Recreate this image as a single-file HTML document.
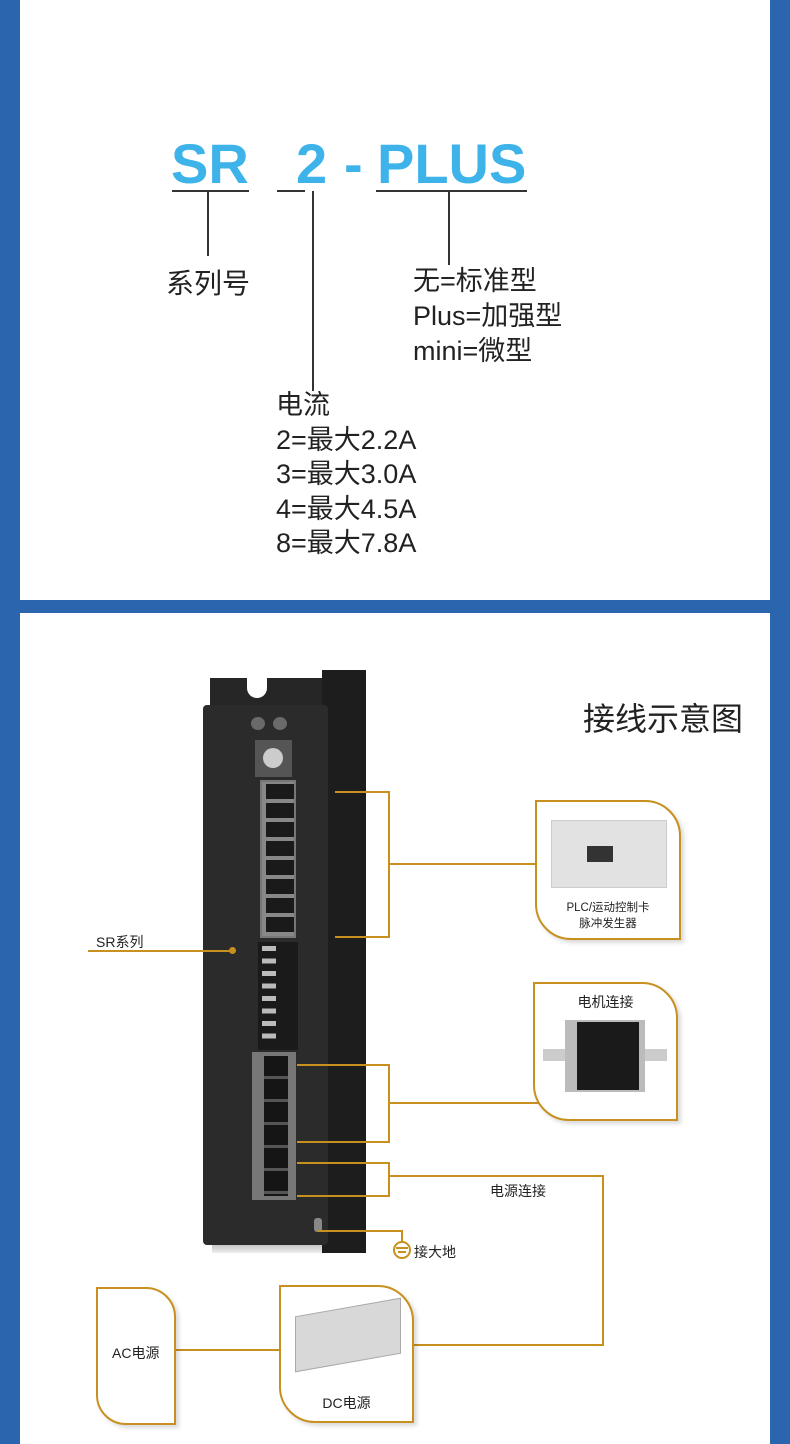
<!DOCTYPE html>
<html><head><meta charset="utf-8"><style>
*{margin:0;padding:0;box-sizing:border-box}
body{width:790px;height:1444px;background:#2a65ad;position:relative;overflow:hidden;font-family:"Liberation Sans","Noto Sans CJK SC",sans-serif;color:#222}
.p{position:absolute;background:#fff}
.a{position:absolute}
.t{position:absolute;white-space:nowrap}
.o{position:absolute;background:#c8901e}
.k{position:absolute;background:#333}
.h{position:absolute;white-space:nowrap;font-size:56px;font-weight:bold;color:#3db3ea;top:131px}
.box{position:absolute;border:2px solid #c8901e;border-radius:0 36px 0 36px;background:#fff;box-shadow:3px 3px 4px rgba(0,0,0,.15)}
</style></head><body>
<div class="p" style="left:20px;top:0;width:750px;height:600px"></div>
<div class="p" style="left:20px;top:613px;width:750px;height:831px"></div>

<!-- top section -->
<div class="h" style="left:171px">SR</div>
<div class="h" style="left:296px">2</div>
<div class="h" style="left:344px">-</div>
<div class="h" style="left:377px">PLUS</div>
<div class="k" style="left:172px;top:190px;width:77px;height:2px"></div>
<div class="k" style="left:277px;top:190px;width:28px;height:2px"></div>
<div class="k" style="left:376px;top:190px;width:151px;height:2px"></div>
<div class="k" style="left:207px;top:191px;width:2px;height:65px"></div>
<div class="k" style="left:312px;top:191px;width:2px;height:200px"></div>
<div class="k" style="left:448px;top:191px;width:2px;height:74px"></div>
<div class="t" style="left:166px;top:262px;font-size:28px">系列号</div>
<div class="t" style="left:413px;top:264px;font-size:27px;line-height:35px">无=标准型<br>Plus=加强型<br>mini=微型</div>
<div class="t" style="left:276px;top:388px;font-size:27px;line-height:34.5px">电流<br>2=最大2.2A<br>3=最大3.0A<br>4=最大4.5A<br>8=最大7.8A</div>

<!-- bottom title -->
<div class="t" style="left:583px;top:694px;font-size:32px">接线示意图</div>

<!-- driver -->
<div class="a" style="left:322px;top:670px;width:44px;height:583px;background:#1d1d1d"></div>
<div class="a" style="left:210px;top:678px;width:112px;height:30px;background:#262626"></div>
<div class="a" style="left:247px;top:678px;width:20px;height:20px;background:#fff;border-radius:0 0 10px 10px"></div>
<div class="a" style="left:212px;top:1243px;width:110px;height:10px;background:linear-gradient(#bbb,#eee)"></div>
<div class="a" style="left:203px;top:705px;width:125px;height:540px;background:#2b2b2b;border-radius:4px"></div>
<div class="a" style="left:251px;top:717px;width:14px;height:13px;border-radius:50%;background:#6a6a6a"></div>
<div class="a" style="left:273px;top:717px;width:14px;height:13px;border-radius:50%;background:#6a6a6a"></div>
<div class="a" style="left:255px;top:740px;width:37px;height:37px;background:#555"></div>
<div class="a" style="left:263px;top:748px;width:20px;height:20px;border-radius:50%;background:#ccc"></div>
<div class="a" style="left:260px;top:780px;width:36px;height:158px;background:#888;border:2px solid #777"></div>
<div class="a" style="left:266px;top:784px;width:28px;height:150px;background:repeating-linear-gradient(#1a1a1a 0 15px,#888 15px 19px)"></div>
<div class="a" style="left:258px;top:942px;width:40px;height:108px;background:#1a1a1a"></div>
<div class="a" style="left:262px;top:946px;width:14px;height:100px;background:repeating-linear-gradient(#bbb 0 5px,#1a1a1a 5px 12.5px)"></div>
<div class="a" style="left:252px;top:1052px;width:44px;height:148px;background:#777"></div>
<div class="a" style="left:264px;top:1056px;width:24px;height:140px;background:repeating-linear-gradient(#151515 0 20px,#555 20px 23px)"></div>
<div class="a" style="left:314px;top:1218px;width:8px;height:14px;background:#888;border-radius:3px"></div>

<!-- SR series -->
<div class="t" style="left:96px;top:932px;font-size:14px">SR系列</div>
<div class="o" style="left:88px;top:950px;width:144px;height:2px"></div>
<div class="a" style="left:229px;top:947px;width:7px;height:7px;border-radius:50%;background:#c8901e"></div>

<!-- PLC bracket -->
<div class="o" style="left:335px;top:791px;width:55px;height:2px"></div>
<div class="o" style="left:388px;top:791px;width:2px;height:147px"></div>
<div class="o" style="left:335px;top:936px;width:55px;height:2px"></div>
<div class="o" style="left:388px;top:863px;width:148px;height:2px"></div>

<!-- motor bracket -->
<div class="o" style="left:297px;top:1064px;width:93px;height:2px"></div>
<div class="o" style="left:388px;top:1064px;width:2px;height:79px"></div>
<div class="o" style="left:297px;top:1141px;width:93px;height:2px"></div>
<div class="o" style="left:388px;top:1102px;width:250px;height:2px"></div>

<!-- power bracket -->
<div class="o" style="left:297px;top:1162px;width:93px;height:2px"></div>
<div class="o" style="left:388px;top:1162px;width:2px;height:35px"></div>
<div class="o" style="left:297px;top:1195px;width:93px;height:2px"></div>
<div class="o" style="left:388px;top:1175px;width:216px;height:2px"></div>
<div class="o" style="left:602px;top:1175px;width:2px;height:171px"></div>
<div class="o" style="left:413px;top:1344px;width:191px;height:2px"></div>
<div class="t" style="left:490px;top:1181px;font-size:14px">电源连接</div>

<!-- ground -->
<div class="o" style="left:318px;top:1230px;width:85px;height:2px"></div>
<div class="o" style="left:401px;top:1230px;width:2px;height:12px"></div>
<div class="a" style="left:393px;top:1241px;width:18px;height:18px;border-radius:50%;border:2px solid #c8901e"></div>
<div class="o" style="left:396px;top:1247px;width:12px;height:2px"></div>
<div class="o" style="left:398px;top:1251px;width:8px;height:2px"></div>
<div class="t" style="left:414px;top:1242px;font-size:14px">接大地</div>

<!-- AC to DC -->
<div class="o" style="left:175px;top:1349px;width:106px;height:2px"></div>

<!-- boxes -->
<div class="box" style="left:535px;top:800px;width:146px;height:140px">
 <div class="a" style="left:14px;top:18px;width:116px;height:68px;background:#e2e2e2;border:1px solid #ccc"></div>
 <div class="a" style="left:50px;top:44px;width:26px;height:16px;background:#333"></div>
 <div class="t" style="left:0;width:142px;text-align:center;top:98px;font-size:11.5px;line-height:16px">PLC/运动控制卡<br>脉冲发生器</div>
</div>
<div class="box" style="left:533px;top:982px;width:145px;height:139px">
 <div class="t" style="left:0;width:141px;text-align:center;top:8px;font-size:14px">电机连接</div>
 <div class="a" style="left:8px;top:65px;width:124px;height:12px;background:#ccc"></div>
 <div class="a" style="left:30px;top:36px;width:80px;height:72px;background:#bbb"></div>
 <div class="a" style="left:42px;top:38px;width:62px;height:68px;background:#1a1a1a"></div>
</div>
<div class="box" style="left:96px;top:1287px;width:80px;height:138px;border-radius:0 30px 0 30px">
 <div class="t" style="left:14px;top:54px;font-size:14px">AC电源</div>
</div>
<div class="box" style="left:279px;top:1285px;width:135px;height:138px">
 <div class="a" style="left:14px;top:20px;width:106px;height:56px;background:#d8d8d8;transform:skewY(-10deg);border:1px solid #aaa"></div>
 <div class="t" style="left:0;width:131px;text-align:center;top:106px;font-size:14px">DC电源</div>
</div>
</body></html>
